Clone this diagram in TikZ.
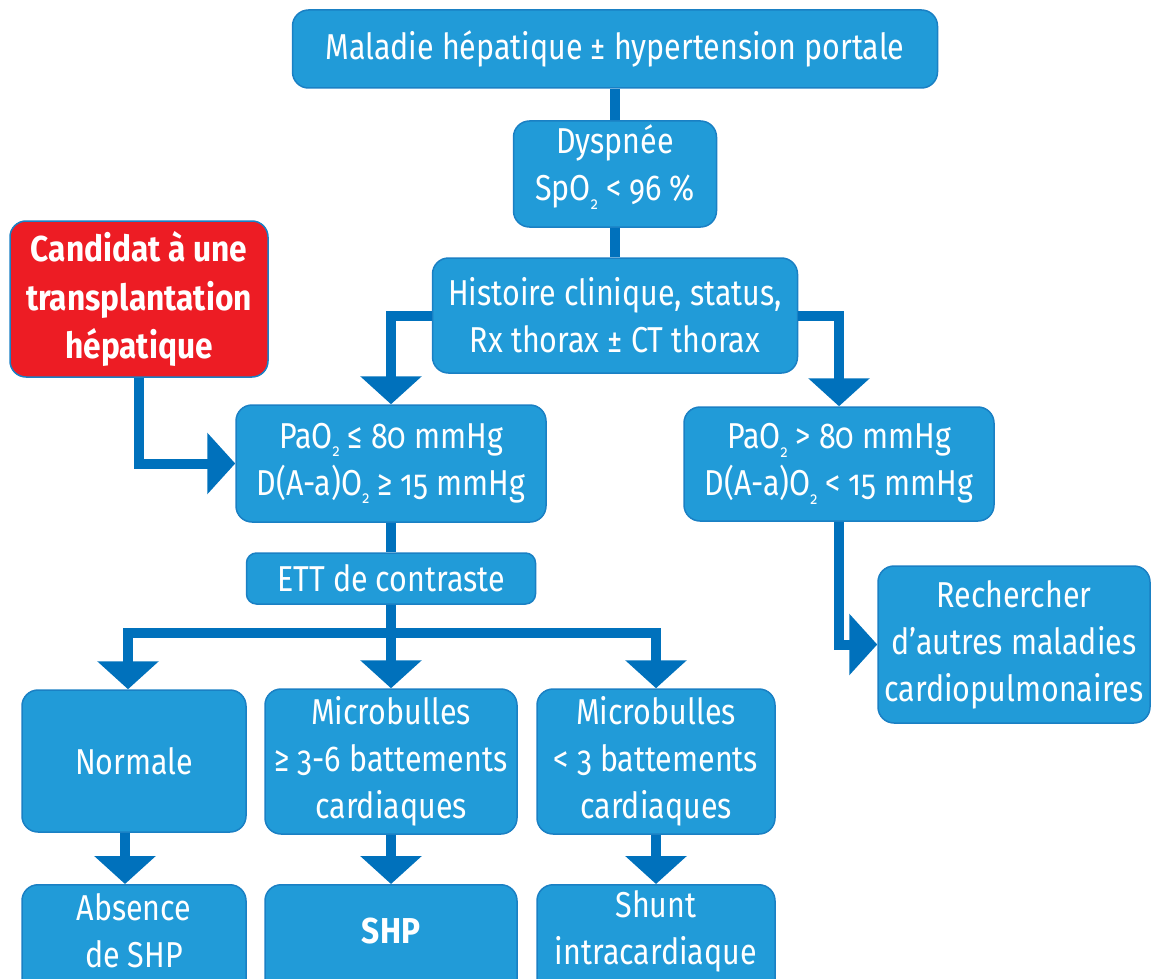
\documentclass[tikz,border=0pt]{standalone}
\usepackage{fontspec}
\setmainfont{Fira Sans}[Numbers=OldStyle,UprightFeatures={FakeStretch=0.845},BoldFeatures={FakeStretch=0.88}]
\usetikzlibrary{arrows.meta}
\definecolor{boxfill}{HTML}{219BD8}
\definecolor{boxline}{HTML}{1A80C4}
\definecolor{arrowblue}{HTML}{0071BC}
\definecolor{redfill}{HTML}{ED1C24}
\newcommand{\lowtwo}{\raisebox{-0.45ex}{\fontsize{17}{17}\selectfont 2}}
\tikzset{
  box/.style={draw=boxline, line width=1.5pt, fill=boxfill, rounded corners=16pt,
    text=white, align=center, inner sep=0pt, font=\fontsize{36}{47}\selectfont},
  redbox/.style={box, fill=redfill, font=\fontsize{36}{48.5}\selectfont\bfseries},
  txt/.style={text=white, align=center, inner sep=0pt, font=\fontsize{36}{47}\selectfont},
  link/.style={draw=arrowblue, line width=10pt},
  arr/.style={link, -{Triangle[length=28pt,width=60pt]}}
}
\begin{document}
\begin{tikzpicture}[x=1pt,y=-1pt]
\useasboundingbox (0,0) rectangle (1153,979);
\clip (0,0) rectangle (1153,979);
\node[box, minimum width=645, minimum height=78] (top) at (615,49) {Maladie hépatique ± hypertension portale};
\node[box, minimum width=203, minimum height=106] (dys) at (615,174) {};
\node[txt] (dyst) at (615,167) {Dyspnée\\SpO\lowtwo{} < 96 \%};
\node[box, minimum width=365, minimum height=115] (hist) at (615,315.5) {Histoire clinique, status,\\Rx thorax ± CT thorax};
\node[redbox, minimum width=258, minimum height=156] (cand) at (139,299) {Candidat à une\\transplantation\\hépatique};
\node[box, minimum width=310, minimum height=117] (pl) at (391,463.5) {PaO\lowtwo{} ≤ 80 mmHg\\D(A-a)O\lowtwo{} ≥ 15 mmHg};
\node[box, minimum width=310, minimum height=114] (pg) at (839,464) {PaO\lowtwo{} > 80 mmHg\\D(A-a)O\lowtwo{} < 15 mmHg};
\node[box, rounded corners=10pt, minimum width=289, minimum height=51] (ett) at (391,578.5) {ETT de contraste};
\node[box, minimum width=272, minimum height=157] (rech) at (1014,644.5) {Rechercher\\d’autres maladies\\cardiopulmonaires};
\node[box, minimum width=224, minimum height=142] (norm) at (134,761) {Normale};
\node[box, minimum width=252, minimum height=145] (mge) at (391,761.5) {Microbulles\\≥ 3-6 battements\\cardiaques};
\node[box, minimum width=238, minimum height=145] (mlt) at (656,761.5) {Microbulles\\< 3 battements\\cardiaques};
\node[box, anchor=north, minimum width=224, minimum height=140] (abs) at (134,884) {};
\node[txt] (abst) at (134,931) {Absence\\de SHP};
\node[box, anchor=north, minimum width=252, minimum height=140] (shp) at (391,884) {};
\node[txt, font=\fontsize{36}{47}\selectfont\bfseries] (shpt) at (391,931) {SHP};
\node[box, anchor=north, minimum width=238, minimum height=140] (shunt) at (656,884) {};
\node[txt] (shuntt) at (656,931) {Shunt\\intracardiaque};
\coordinate (bar) at (391,633);

\draw[link] (top.south) -- (dys.north);
\draw[link] (dys.south) -- (hist.north);
\draw[arr] (hist.west) -| (pl.north);
\draw[arr] (hist.east) -| (pg.north);
\draw[arr] (cand.south) |- (pl.west);
\draw[link] (pl.south) -- (pl.south |- ett.north);
\draw[arr] (ett.south) -- (mge.north);
\draw[arr] (bar) -| ([xshift=-6pt]norm.north);
\draw[arr] (bar) -| (mlt.north);
\draw[arr] (pg.south) |- (rech.west);
\draw[arr] ([xshift=-9pt]norm.south) -- ([xshift=-9pt]abs.north);
\draw[arr] (mge.south) -- (shp.north);
\draw[arr] (mlt.south) -- (shunt.north);
\end{tikzpicture}
\end{document}
